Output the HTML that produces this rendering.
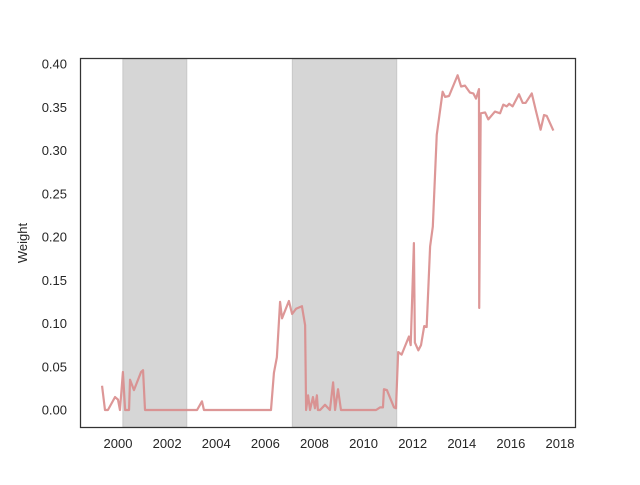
<!DOCTYPE html>
<html><head><meta charset="utf-8"><style>
body{margin:0;background:#fff}
svg text{font-family:"Liberation Sans",sans-serif;font-size:13px;fill:#262626}
</style></head><body>
<svg id="chart" width="640" height="480" xmlns="http://www.w3.org/2000/svg">
<g id="shade"></g><g id="ticks"></g><g id="lines"></g>
<rect x="80.5" y="58.5" width="495" height="369" fill="none" stroke="#333" stroke-width="1.25"/>
<text transform="translate(27,243) rotate(-90)" text-anchor="middle">Weight</text>
</svg>
<script>
const years=[1999.35,1999.47,1999.59,1999.88,2000.0,2000.08,2000.2,2000.29,2000.45,2000.49,2000.65,2000.94,2001.02,2001.1,2003.22,2003.42,2003.5,2006.23,2006.35,2006.47,2006.6,2006.68,2006.96,2007.09,2007.25,2007.49,2007.62,2007.66,2007.74,2007.82,2007.94,2008.02,2008.1,2008.14,2008.23,2008.43,2008.63,2008.76,2008.84,2008.96,2009.08,2010.51,2010.67,2010.79,2010.83,2010.95,2011.24,2011.32,2011.41,2011.55,2011.85,2011.92,2012.05,2012.09,2012.23,2012.34,2012.47,2012.57,2012.71,2012.82,2012.98,2013.22,2013.32,2013.48,2013.83,2013.97,2014.13,2014.33,2014.47,2014.58,2014.7,2014.71,2014.77,2014.95,2015.08,2015.35,2015.56,2015.69,2015.83,2015.93,2016.07,2016.33,2016.48,2016.6,2016.85,2017.01,2017.21,2017.35,2017.46,2017.73];
const weights=[0.028,0,0,0.015,0.012,0,0.044,0,0,0.035,0.023,0.044,0.046,0,0,0.01,0,0,0.043,0.061,0.125,0.106,0.126,0.111,0.117,0.12,0.098,0,0.017,0,0.015,0.002,0.017,0,0,0.006,0,0.032,0,0.024,0,0,0.003,0.003,0.024,0.023,0.003,0.002,0.067,0.064,0.085,0.075,0.193,0.078,0.069,0.075,0.097,0.096,0.189,0.212,0.318,0.368,0.362,0.363,0.387,0.374,0.375,0.367,0.366,0.36,0.371,0.118,0.343,0.344,0.336,0.345,0.343,0.353,0.351,0.354,0.351,0.365,0.355,0.355,0.366,0.347,0.324,0.341,0.34,0.323];
const recessionStarts=[2000.2,2007.1];
const recessionEnds=[2002.8,2011.35];
const xTicks=[2000,2002,2004,2006,2008,2010,2012,2014,2016,2018];
const yTicks=[0,0.05,0.1,0.15,0.2,0.25,0.3,0.35,0.4];
const X=y=>118+(y-2000)*24.556;
const Y=v=>410-v*865;
const NS="http://www.w3.org/2000/svg";
const mk=(t,a,p)=>{const e=document.createElementNS(NS,t);for(const k in a)e.setAttribute(k,a[k]);p.appendChild(e);return e;};
const sh=document.getElementById('shade');
recessionStarts.forEach((s,i)=>{
 const r=mk('rect',{x:X(s),y:59,width:X(recessionEnds[i])-X(s),height:368,fill:'#d6d6d6',stroke:'#c8c8c8','stroke-width':1},sh);
 
 
});
const tk=document.getElementById('ticks');
xTicks.forEach(t=>{
 const e=mk('text',{x:X(t),y:448,'text-anchor':'middle'},tk);e.textContent=t;
 
 
});
yTicks.forEach(t=>{
 const e=mk('text',{x:67,y:Y(t)+4.5,'text-anchor':'end'},tk);e.textContent=t.toFixed(2);
 
 
});
const pl=mk('polyline',{points:years.map((y,i)=>X(y)+','+Y(weights[i])).join(' '),fill:'none',stroke:'#d98c8c','stroke-opacity':0.9,'stroke-width':2.2,'stroke-linejoin':'round'},document.getElementById('lines'));


</script>
</body></html>
